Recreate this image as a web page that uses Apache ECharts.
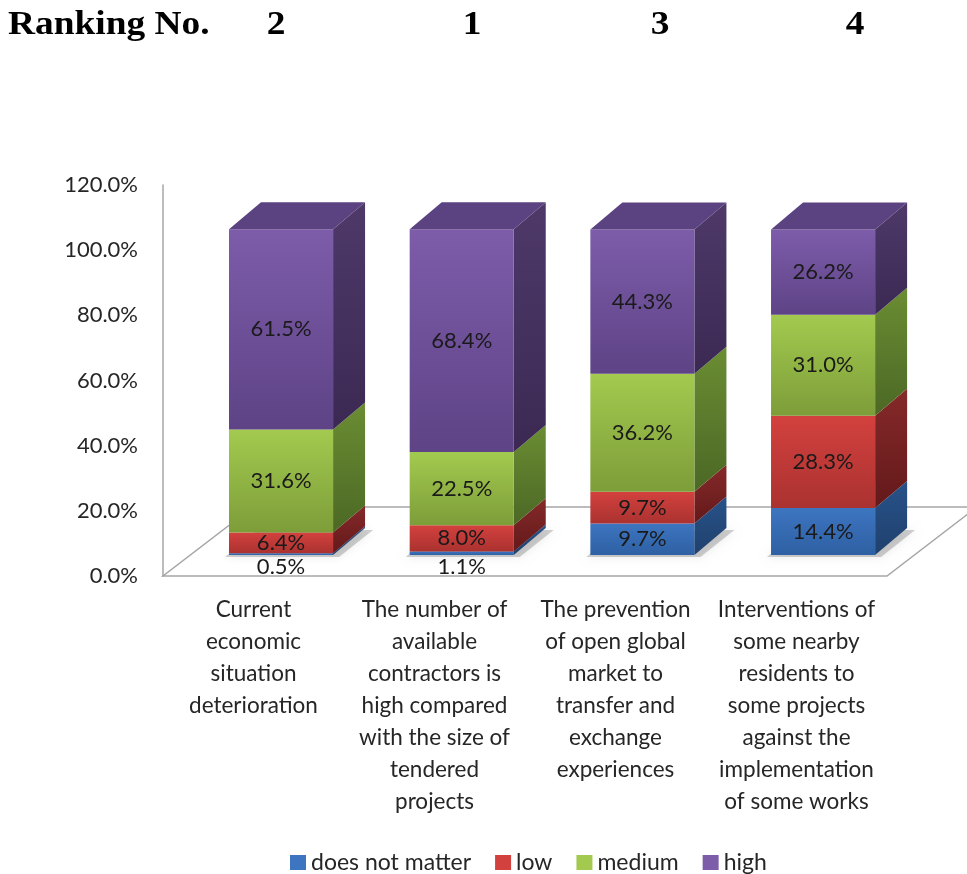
<!DOCTYPE html>
<html>
<head>
<meta charset="utf-8">
<script src="https://cdn.jsdelivr.net/npm/echarts@6/dist/echarts.min.js"></script>
<style>
html, body { margin: 0; padding: 0; background: #fff; }
#chart { width: 967px; height: 874px; }
</style>
</head>
<body>
<div id="chart"></div>
<script>
// categories (wrapped like the original)
const categories = [
  'Current\neconomic\nsituation\ndeterioration',
  'The number of\navailable\ncontractors is\nhigh compared\nwith the size of\ntendered\nprojects',
  'The prevention\nof open global\nmarket to\ntransfer and\nexchange\nexperiences',
  'Interventions of\nsome nearby\nresidents to\nsome projects\nagainst the\nimplementation\nof some works'
];
const rankings = ['2', '1', '3', '4'];
const seriesNames = ['does not matter', 'low', 'medium', 'high'];
const doesNotMatter = [0.5, 1.1, 9.7, 14.4];
const low = [6.4, 8.0, 9.7, 28.3];
const medium = [31.6, 22.5, 36.2, 31.0];
const high = [61.5, 68.4, 44.3, 26.2];

// 3d look
const DX = 32, DY = -27;        // bar depth
const FDX = 90, FDY = -69;      // floor depth
const palette = [
  { front: ['#3d75c0', '#2e60a3'], side: ['#285289', '#1f416d'], top: '#2d5a94' },
  { front: ['#d3413e', '#aa3230'], side: ['#86292a', '#63191a'], top: '#9a2c2a' },
  { front: ['#a3ca4f', '#7d9d39'], side: ['#6b8d33', '#4c6825'], top: '#7f9f3a' },
  { front: ['#7d5caa', '#5e4386'], side: ['#4e3969', '#3b2953'], top: '#5b4280' }
];

let chart = echarts.init(document.getElementById('chart'));

const allValues = [doesNotMatter, low, medium, high];
let bases = [0, 0, 0, 0];
const barSeries = allValues.map((vals, si) => {
  const data = vals.map((v, i) => [i, bases[i], v]);
  bases = bases.map((b, i) => b + vals[i]);
  const col = palette[si];
  return {
    name: seriesNames[si],
    type: 'custom',
    xAxisIndex: 0,
    yAxisIndex: 0,
    itemStyle: { color: col.front[0] },
    clip: false,
    data: data,
    renderItem: function (params, api) {
      const idx = api.value(0), base = api.value(1), val = api.value(2);
      const p0 = api.coord([idx, base]);
      const p1 = api.coord([idx, base + val]);
      const bw = api.size([1, 0])[0] * 0.576;
      const x0 = p0[0] - bw / 2, x1 = x0 + bw;
      const yb = p0[1], yt = p1[1];
      const children = [];
      if (si === 0) {
        // soft shadow on the floor
        children.push({
          type: 'polygon',
          shape: { points: [[x0 - 4, yb + 2], [x1 + 6, yb + 2], [x1 + DX + 8, yb + DY + 2], [x0 + DX - 4, yb + DY + 2]] },
          style: { fill: 'rgba(0,0,0,0.18)', shadowBlur: 10, shadowColor: 'rgba(0,0,0,0.45)' }
        });
      }
      children.push({
        type: 'polygon',
        shape: { points: [[x1, yb], [x1 + DX, yb + DY], [x1 + DX, yt + DY], [x1, yt]] },
        style: { fill: new echarts.graphic.LinearGradient(0, 0, 0, 1, [
          { offset: 0, color: col.side[0] }, { offset: 1, color: col.side[1] }]) }
      });
      children.push({
        type: 'rect',
        shape: { x: x0, y: yt, width: bw, height: yb - yt },
        style: { fill: new echarts.graphic.LinearGradient(0, 0, 0, 1, [
          { offset: 0, color: col.front[0] }, { offset: 1, color: col.front[1] }]) }
      });
      if (si === allValues.length - 1) {
        children.push({
          type: 'polygon',
          shape: { points: [[x0, yt], [x1, yt], [x1 + DX, yt + DY], [x0 + DX, yt + DY]] },
          style: { fill: col.top }
        });
      }
      const small = (yb - yt) < 16;
      children.push({
        type: 'text',
        z2: 10,
        style: {
          text: val.toFixed(1) + '%',
          x: (x0 + x1) / 2,
          y: small ? yb + 12 : (yb + yt) / 2,
          align: 'center',
          verticalAlign: 'middle',
          fill: '#1a1a1a',
          font: '22px Lato'
        }
      });
      return { type: 'group', children: children };
    }
  };
});

const floorSeries = {
  type: 'custom',
  xAxisIndex: 1,
  yAxisIndex: 1,
  silent: true,
  clip: false,
  data: [[0, 0]],
  renderItem: function (params, api) {
    const band = api.size([1, 0])[0];
    const pl = api.coord([0, 0]);
    const pr = api.coord([categories.length - 1, 0]);
    const left = pl[0] - band / 2, right = pr[0] + band / 2, y = pl[1];
    return {
      type: 'polygon',
      shape: { points: [[left, y], [right, y], [right + FDX, y + FDY], [left + FDX, y + FDY]] },
      style: { fill: '#fff', stroke: '#a6a6a6', lineWidth: 1.5 }
    };
  }
};

const rankX = [276, 472, 660, 855];
const titleFont = 'bold 34px "Liberation Serif"';

chart.setOption({
  backgroundColor: '#fff',
  animation: false,
  textStyle: { fontFamily: 'Lato' },
  graphic: [
    {
      type: 'text', x: 8, y: 25, scaleX: 1.1,
      style: { text: 'Ranking No.', font: titleFont, fill: '#000', verticalAlign: 'middle' }
    }
  ].concat(rankings.map((r, i) => ({
    type: 'text', x: rankX[i], y: 25, scaleX: 1.1,
    style: { text: r, font: titleFont, fill: '#000', align: 'center', verticalAlign: 'middle' }
  }))),
  legend: {
    data: seriesNames,
    left: 285,
    top: 846,
    icon: 'rect',
    itemWidth: 16,
    itemHeight: 15,
    itemGap: 24,
    textStyle: { fontSize: 23, color: '#262626', fontFamily: 'Lato' }
  },
  grid: [
    // bars (front faces)
    { left: 190.7, right: 53.6, top: 164, bottom: 319 },
    // axis frame and labels
    { left: 163, right: 80, top: 185, bottom: 298 }
  ],
  xAxis: [
    { type: 'category', gridIndex: 0, data: categories, show: false },
    {
      type: 'category', gridIndex: 1, data: categories,
      axisLine: { show: false },
      axisTick: { show: false },
      axisLabel: {
        interval: 0, margin: 18, fontSize: 22.5, lineHeight: 32,
        color: '#262626', fontFamily: 'Lato', align: 'center'
      }
    }
  ],
  yAxis: [
    { type: 'value', gridIndex: 0, min: 0, max: 120, show: false },
    {
      type: 'value', gridIndex: 1, min: 0, max: 120, interval: 20,
      axisLine: { show: true, lineStyle: { color: '#a6a6a6', width: 1.5 } },
      axisTick: { show: false },
      splitLine: { show: false },
      axisLabel: {
        margin: 25, fontSize: 22, color: '#262626', fontFamily: 'Lato',
        formatter: v => v.toFixed(1) + '%'
      }
    }
  ],
  series: [floorSeries].concat(barSeries)
});

window.addEventListener('resize', () => {
  chart.resize();
});
</script>
</body>
</html>
